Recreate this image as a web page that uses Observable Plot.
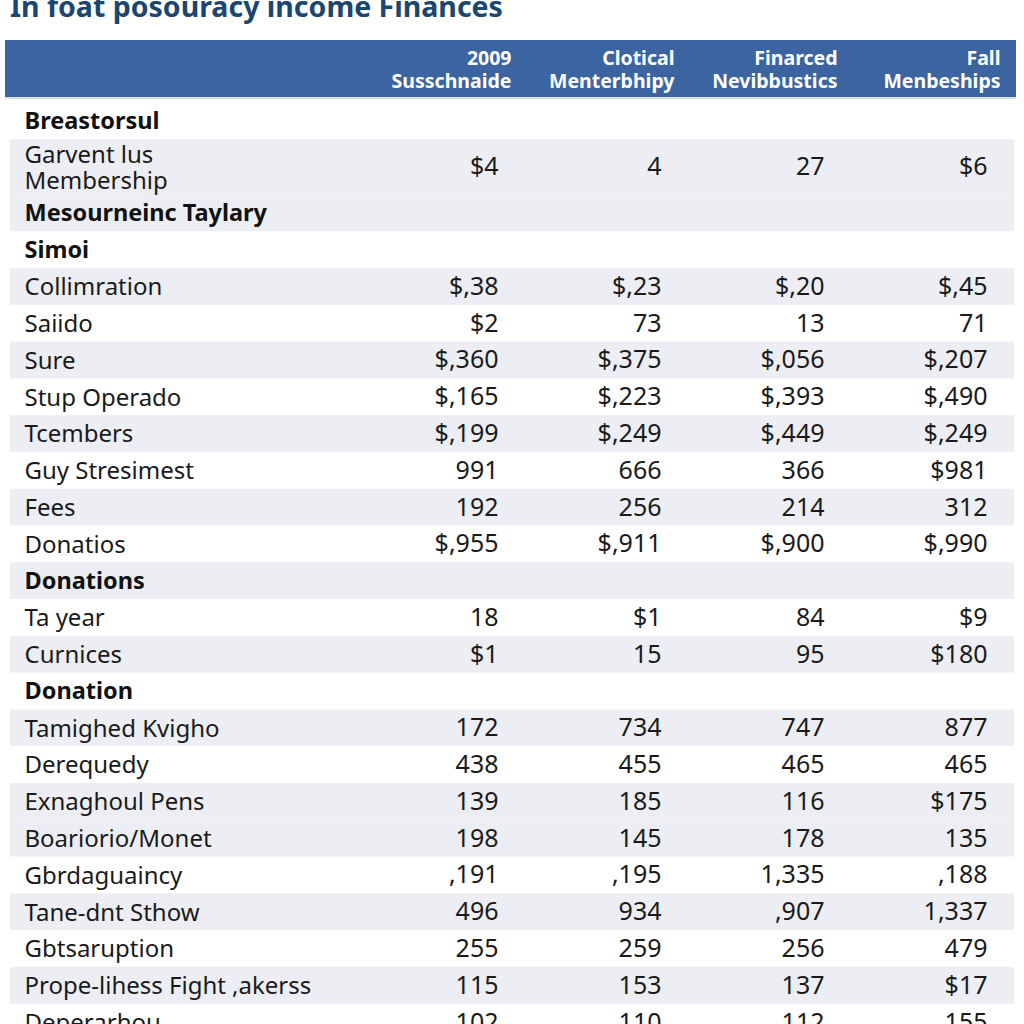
<!DOCTYPE html>
<html>
<head>
<meta charset="utf-8">
<script src="https://cdn.jsdelivr.net/npm/d3@7"></script>
<script src="https://cdn.jsdelivr.net/npm/@observablehq/plot@0.6"></script>
<style>
  html, body { margin: 0; padding: 0; background: #ffffff; }
  #wrap { position: relative; width: 1024px; height: 1024px; overflow: hidden; }
  #title { position: absolute; left: 10px; top: -8px; font-family: "Noto Sans", "Open Sans", sans-serif;
           font-weight: bold; font-size: 28.5px; line-height: 28px; color: #1b466f; white-space: nowrap; z-index: 2; }
  #chart { position: absolute; left: 0; top: 0; }
</style>
</head>
<body>
<div id="wrap">
  <div id="title"></div>
  <div id="chart"></div>
</div>
<script>
const title = "In foat posouracy income Finances";

const columns = [
  "2009\nSusschnaide",
  "Clotical\nMenterbhipy",
  "Finarced\nNevibbustics",
  "Fall\nMenbeships"
];

const rowLabels = [
  "Breastorsul",
  "Garvent lus\nMembership",
  "Mesourneinc Taylary",
  "Simoi",
  "Collimration",
  "Saiido",
  "Sure",
  "Stup Operado",
  "Tcembers",
  "Guy Stresimest",
  "Fees",
  "Donatios",
  "Donations",
  "Ta year",
  "Curnices",
  "Donation",
  "Tamighed Kvigho",
  "Derequedy",
  "Exnaghoul Pens",
  "Boariorio/Monet",
  "Gbrdaguaincy",
  "Tane-dnt Sthow",
  "Gbtsaruption",
  "Prope-lihess Fight ,akerss",
  "Deperarhou"
];

const sectionRows = ["Breastorsul", "Mesourneinc Taylary", "Simoi", "Donations", "Donation"];

const col2009 = ["", "$4", "", "", "$,38", "$2", "$,360", "$,165", "$,199", "991", "192", "$,955", "", "18", "$1", "", "172", "438", "139", "198", ",191", "496", "255", "115", "102"];
const colClotical = ["", "4", "", "", "$,23", "73", "$,375", "$,223", "$,249", "666", "256", "$,911", "", "$1", "15", "", "734", "455", "185", "145", ",195", "934", "259", "153", "110"];
const colFinarced = ["", "27", "", "", "$,20", "13", "$,056", "$,393", "$,449", "366", "214", "$,900", "", "84", "95", "", "747", "465", "116", "178", "1,335", ",907", "256", "137", "112"];
const colFall = ["", "$6", "", "", "$,45", "71", "$,207", "$,490", "$,249", "$981", "312", "$,990", "", "$9", "$180", "", "877", "465", "$175", "135", ",188", "1,337", "479", "$17", "155"];

const valueColumns = [col2009, colClotical, colFinarced, colFall];

// ---- layout (row slots in line units) ----
const headerWeight = 1.55, headerGap = 0.15;
const rowWeight = s => s.split("\n").length > 1 ? 1.5 : 1;
const rows = [];
let u = headerWeight + headerGap;
rowLabels.forEach((label, i) => {
  const w = rowWeight(label);
  rows.push({label, i, top: u, bottom: u + w, center: u + w / 2, section: sectionRows.includes(label)});
  u += w;
});
const header = {top: 0, bottom: headerWeight, center: headerWeight / 2};
const lastCenter = rows[rows.length - 1].center;

// stripe pattern of the table
const shaded = new Set([1, 2, 4, 6, 8, 10, 12, 14, 16, 18, 19, 21, 23]);
const stripes = rows.filter(r => shaded.has(r.i));

const cells = [];
rows.forEach(r => {
  columns.forEach((c, j) => {
    const v = valueColumns[j][r.i];
    if (v !== "") cells.push({col: c, y: r.center, value: v});
  });
});

document.getElementById("title").textContent = title;

const font = "Noto Sans, Open Sans, sans-serif";
const chart = Plot.plot({
  width: 1024,
  height: 1024,
  margin: 0,
  style: {fontFamily: font, background: "#ffffff"},
  x: {type: "point", domain: columns, range: [497, 987], padding: 0, axis: null},
  y: {type: "linear", domain: [0, lastCenter], range: [40, 1022], axis: null},
  marks: [
    Plot.rect(stripes, {y1: "top", y2: "bottom", fill: "#eceef3", insetLeft: 10, insetRight: 10}),
    Plot.rect([header], {y1: "top", y2: "bottom", fill: "#3b64a0", insetLeft: 5, insetRight: 8}),
    Plot.rect([header], {y1: "bottom", y2: d => d.bottom + 0.06, fill: "#d9dde5", insetLeft: 5, insetRight: 8}),
    Plot.text(columns, {x: d => d, y: () => header.center, text: d => d, textAnchor: "end", dx: 13,
      fill: "#ffffff", fontWeight: "bold", fontSize: 19.5, lineHeight: 1.17}),
    Plot.text(rows.filter(r => r.section), {y: "center", text: "label", frameAnchor: "left", dx: 24,
      textAnchor: "start", fill: "#111111", fontWeight: "bold", fontSize: 23.5}),
    Plot.text(rows.filter(r => !r.section), {y: "center", text: "label", frameAnchor: "left", dx: 24,
      textAnchor: "start", fill: "#1a1a1a", fontSize: 24, lineHeight: 1.1}),
    Plot.text(cells, {x: "col", y: "y", text: "value", textAnchor: "end", fill: "#1a1a1a", fontSize: 25})
  ]
});
document.getElementById("chart").appendChild(chart);
</script>
</body>
</html>
